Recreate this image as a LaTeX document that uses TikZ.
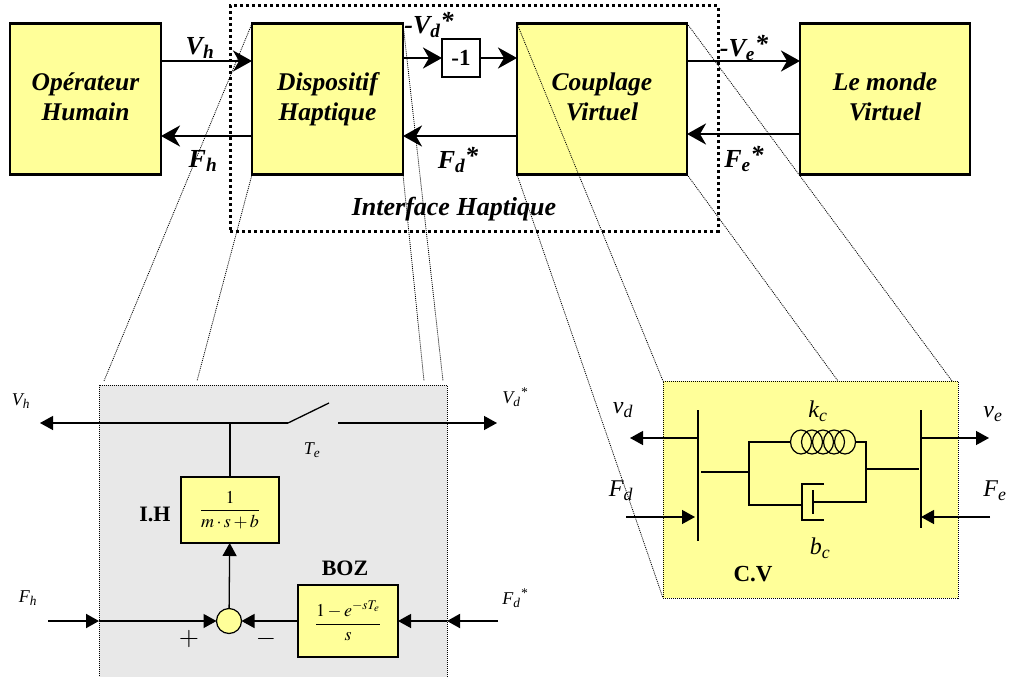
\documentclass[tikz,border=0pt]{standalone}
\usepackage{amsmath}
\usepackage{mathptmx}
\usepackage[no-math]{fontspec}
\setmainfont{Liberation Serif}
\usetikzlibrary{positioning}
\usetikzlibrary{arrows.meta}
\usetikzlibrary{shapes.geometric}
\definecolor{jaune}{HTML}{FFFF99}
\definecolor{gris}{HTML}{E8E8E8}
\newcommand{\etoile}{\raisebox{4pt}{*}}
\tikzset{
	bloc/.style={draw,fill=jaune,line width=2.2pt,minimum height=151pt,align=center,inner sep=0pt,outer sep=0pt,font=\fontsize{25.5}{30}\selectfont\bfseries\itshape},
	petitbloc/.style={draw,fill=jaune,line width=1.2pt,inner sep=0pt,outer sep=0pt},
	fleche/.style={line width=2.8pt,-{Stealth[length=19pt,width=21pt,inset=6pt]}},
	fine/.style={line width=1.3pt},
	finefleche/.style={line width=1.3pt,-{Triangle[length=13pt,width=14pt]}},
	forte/.style={finefleche,line width=1.9pt},
	zoomtrait/.style={dash pattern=on 1pt off 1pt,line width=0.8pt},
	cadre/.style={draw,dash pattern=on 1pt off 1pt,line width=0.8pt,inner sep=0pt,outer sep=0pt},
	signal/.style={font=\fontsize{26}{28}\selectfont\bfseries\itshape,inner sep=0pt},
	petit/.style={font=\fontsize{18}{20}\selectfont\itshape,inner sep=0pt},
	grand/.style={font=\fontsize{24}{26}\selectfont\itshape,inner sep=0pt},
	titre/.style={font=\fontsize{22}{24}\selectfont\bfseries,inner sep=0pt},
}
\begin{document}
\begin{tikzpicture}[x=1pt,y=-1pt]
	\useasboundingbox (0,0) rectangle (1012,677);
	
	\node [draw,line width=3pt,dash pattern=on 3pt off 3pt,minimum width=488pt,minimum height=225pt,inner sep=0pt] at (474,118.5) (Interface) {};
	\node [bloc,minimum width=151pt] at (85.5,99) (Op) {\strut Opérateur\\\strut Humain};
	\node [bloc,minimum width=151pt,right=91pt of Op] (Disp) {\strut Dispositif\\\strut Haptique};
	\node [bloc,minimum width=170pt,right=114pt of Disp] (Coup) {\strut Couplage\\\strut Virtuel};
	\node [bloc,minimum width=170pt,right=113pt of Coup] (Monde) {\strut Le monde\\\strut Virtuel};
	\node [draw,fill=white,line width=1.5pt,minimum size=38pt,inner sep=0pt,outer sep=0pt,font=\fontsize{23}{25}\selectfont\bfseries] at (461,58) (Moins) {-1};
	\draw [fleche] ([yshift=38]Op.east) -- ([yshift=38]Disp.west);
	\draw [fleche] ([yshift=-37]Disp.west) -- ([yshift=-37]Op.east);
	\draw [fleche] (Disp.east |- Moins) -- (Moins);
	\draw [fleche] (Moins) -- (Coup.west |- Moins);
	\draw [fleche] ([yshift=-37]Coup.west) -- ([yshift=-37]Disp.east);
	\draw [fleche] ([yshift=38]Coup.east) -- ([yshift=38]Monde.west);
	\draw [fleche] ([yshift=-35]Monde.west) -- ([yshift=-35]Coup.east);
	\node [signal] at (200,48) (lVh) {V\textsubscript{h}};
	\node [signal] at (203,161) (lFh) {F\textsubscript{h}};
	\node [signal] at (429,25) (lVd) {-V\textsubscript{d}\etoile};
	\node [signal] at (458,160) (lFd) {F\textsubscript{d}\etoile};
	\node [signal] at (744,48) (lVe) {-V\textsubscript{e}\etoile};
	\node [signal] at (744,159) (lFe) {F\textsubscript{e}\etoile};
	\node [signal] at (454,209) (lInt) {Interface Haptique};
	
	\node [cadre,fill=gris,minimum width=348pt,minimum height=300pt,anchor=north west] at (99,385) (Gris) {};
	\node [cadre,fill=jaune,minimum width=295pt,minimum height=217pt,anchor=north west] at (663,381) (CV) {};
	\coordinate (z1) at (104,381); \coordinate (z2) at (197,381); \coordinate (z3) at (424,381); \coordinate (z4) at (443,381);
	\coordinate (z5) at (838,381); \coordinate (z6) at (952,381);
	\draw [zoomtrait] (Disp.north west) -- (z1); \draw [zoomtrait] (Disp.south west) -- (z2);
	\draw [zoomtrait] (Disp.north east) -- (z4); \draw [zoomtrait] (Disp.south east) -- (z3);
	\draw [zoomtrait] (Coup.north west) -- (CV.north west); \draw [zoomtrait] (Coup.south west) -- (CV.south west);
	\draw [zoomtrait] (Coup.north east) -- (z6); \draw [zoomtrait] (Coup.south east) -- (z5);
	
	\node [petitbloc,minimum width=98pt,minimum height=66pt] at (230,510) (IH) {\fontsize{18}{20}\selectfont$\dfrac{1}{m\cdot s+b}$};
	\node [petitbloc,minimum width=100pt,minimum height=72pt] at (348,621) (BOZ) {\fontsize{18}{20}\selectfont$\dfrac{1-e^{-sT_e}}{s}$};
	\node [circle,draw,fill=jaune,line width=1.2pt,minimum size=25pt,inner sep=0pt,outer sep=0pt] at (229,621) (Som) {};
	\coordinate (gVh) at (40,423); \coordinate (dVd) at (497,423); \coordinate (inter) at (288,423);
	\coordinate (ouvert) at (329,403); \coordinate (ferme) at (338,423); \coordinate (noeud) at (230,423);
	\coordinate (gFh) at (48,621); \coordinate (dFd) at (498,621);
	\draw [finefleche] (inter) -- (gVh); \draw [fine] (inter) -- (ouvert);
	\draw [finefleche] (ferme) -- (dVd); \draw [fine] (noeud) -- (IH.north);
	\draw [finefleche] (Som) -- (IH);
	\draw [forte] (gFh) -- (Gris.west |- gFh);
	\draw [finefleche] (Gris.west |- gFh) -- (Som);
	\draw [forte] (dFd) -- (Gris.east |- dFd);
	\draw [finefleche] (Gris.east |- dFd) -- (BOZ);
	\draw [finefleche] (BOZ) -- (Som);
	\node [petit] at (21,401) (bVh) {V\textsubscript{h}};
	\node [petit] at (515,397) (bVd) {V\textsubscript{d}\textsuperscript{*}};
	\node [petit] at (28,598) (bFh) {F\textsubscript{h}};
	\node [petit] at (515,598) (bFd) {F\textsubscript{d}\textsuperscript{*}};
	\node [petit] at (312,450) (bTe) {T\textsubscript{e}};
	\node [titre] at (155,514) (bIH) {I.H};
	\node [titre] at (345,568) (bBOZ) {BOZ};
	\node [font=\fontsize{26}{28}\selectfont,inner sep=0pt] at (189,639) (bplus) {$+$};
	\node [font=\fontsize{26}{28}\selectfont,inner sep=0pt] at (266,639) (bmoins) {$-$};
	
	\coordinate (bg1) at (698,410); \coordinate (bg2) at (698,541);
	\coordinate (bd1) at (921,410); \coordinate (bd2) at (921,528);
	\coordinate (tvd) at (630,438); \coordinate (tve) at (989,438);
	\coordinate (sFd) at (626,517); \coordinate (pFd) at (695,517);
	\coordinate (sFe) at (990,517); \coordinate (pFe) at (921,517);
	\draw [fine] (bg1) -- (bg2); \draw [fine] (bd1) -- (bd2);
	\draw [finefleche] (bg1 |- tvd) -- (tvd);
	\draw [finefleche] (bd1 |- tve) -- (tve);
	\draw [finefleche] (sFd) -- (pFd);
	\draw [finefleche] (sFe) -- (pFe);
	\foreach \cx in {801,812,823,834,845}
		\node [draw,ellipse,line width=1.2pt,minimum width=21pt,minimum height=24pt,inner sep=0pt,outer sep=0pt] at (\cx,442) (spire\cx) {};
	\coordinate (ga) at (749,442); \coordinate (gb) at (749,505); \coordinate (gc) at (701,472); \coordinate (gd) at (749,472);
	\coordinate (da) at (866,442); \coordinate (db) at (866,502); \coordinate (dc) at (866,469); \coordinate (dd) at (919,469);
	\coordinate (ca) at (824,484); \coordinate (cb) at (802,484); \coordinate (cc) at (802,520); \coordinate (cd) at (824,520);
	\coordinate (pa) at (813,490); \coordinate (pb) at (813,514);
	\draw [fine] (spire801.west) -- (ga) -- (gb) -- (cb |- gb);
	\draw [fine] (spire845.east) -- (da) -- (db) -- (pa |- db);
	\draw [fine] (gc) -- (gd); \draw [fine] (dc) -- (dd);
	\draw [fine] (ca) -- (cb) -- (cc) -- (cd); \draw [fine] (pa) -- (pb);
	\node [grand] at (623,410) (lvd) {v\textsubscript{d}};
	\node [grand] at (993,414) (lve) {v\textsubscript{e}};
	\node [grand] at (621,491) (lFdd) {F\textsubscript{d}};
	\node [grand] at (995,491) (lFee) {F\textsubscript{e}};
	\node [grand] at (818,411) (lkc) {k\textsubscript{c}};
	\node [grand] at (820,548) (lbc) {b\textsubscript{c}};
	\node [titre,font=\fontsize{23}{25}\selectfont\bfseries] at (753,574) (lCV) {C.V};
\end{tikzpicture}
\end{document}
